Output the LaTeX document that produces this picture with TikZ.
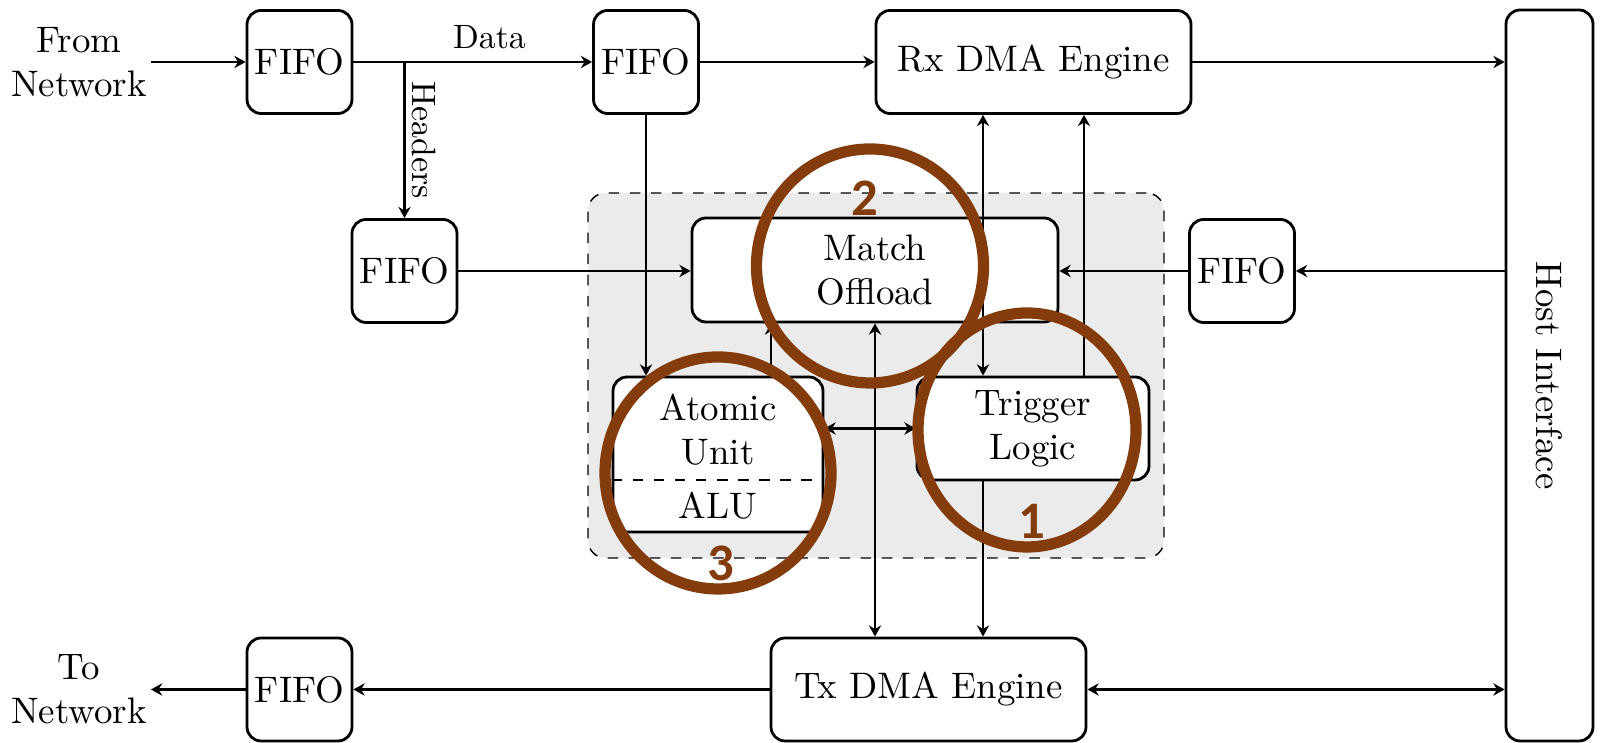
\documentclass[tikz,border=0pt]{standalone}
\usepackage{fontspec}
\newfontfamily\numfont{Carlito}
\usepackage{tikz}
\usetikzlibrary{arrows.meta}
\definecolor{markbrown}{RGB}{132,60,12}
\definecolor{areagray}{RGB}{235,235,235}

\begin{document}
\begin{tikzpicture}[>={Stealth[length=3.2pt,width=3.5pt]}, font=\fontsize{10.5}{12.6}\selectfont,
  block/.style = {draw, thick, rounded corners=4pt, fill=white, align=center, inner sep=0pt},
  fifo/.style = {block, minimum width=1.05cm, minimum height=1.03cm},
  engine/.style = {block, minimum width=3.15cm, minimum height=1.03cm},
  link/.style = {semithick},
  lbl/.style = {font=\fontsize{9.6}{11}\selectfont},
  ring/.style = {draw=markbrown, line width=3.2pt},
  ringnum/.style = {text=markbrown, font=\numfont\bfseries\fontsize{15}{15}\selectfont}]
  \useasboundingbox (0,0) rectangle (16.14,7.43);

  % grey area round the offload units
  \node[draw, dashed, thin, fill=areagray, rounded corners=5pt, minimum width=5.76cm, minimum height=3.65cm] (nic) at (8.76,3.675) {};

  \node[align=center, inner sep=1pt] (from) at (0.79,6.81) {From\\Network};
  \node[fifo] (fifoA) at (2.995,6.81) {FIFO};
  \node[fifo] (fifoB) at (6.46,6.81) {FIFO};
  \node[engine] (rx) at (10.335,6.81) {Rx DMA Engine};
  \node[block, minimum width=0.87cm, minimum height=7.31cm] (host) at (15.495,3.675) {};
  \node[rotate=-90] (hosttxt) at (host) {Host Interface};

  \node[fifo] (fifoH) at (4.045,4.72) {FIFO};
  \node[block, minimum width=3.66cm, minimum height=1.04cm] (match) at (8.75,4.73) {Match\\Offload};
  \node[fifo] (fifoR) at (12.42,4.72) {FIFO};

  \node[block, minimum width=2.1cm, minimum height=1.55cm] (atomic) at (7.18,2.885) {};
  \node[align=center] (atomtxt) at (7.18,3.13) {Atomic\\Unit};
  \node (alu) at (7.18,2.37) {ALU};
  \draw[dashed, thin] (atomic.west |- 0,2.63) -- (atomic.east |- 0,2.63);
  \node[block, minimum width=2.32cm, minimum height=1.03cm] (trig) at (10.33,3.145) {Trigger\\Logic};

  \node[engine] (tx) at (9.285,0.535) {Tx DMA Engine};
  \node[fifo] (fifoC) at (2.995,0.535) {FIFO};
  \node[align=center, inner sep=1pt] (to) at (0.79,0.535) {To\\Network};

  % receive side
  \draw[link,->] (from) -- (fifoA);
  \draw[link,->] (fifoA) -- node[lbl, pos=0.57, above] (datalbl) {Data} (fifoB);
  \draw[link,->] (fifoA.east -| fifoH.north) -- node[lbl, pos=0.5, rotate=-90, anchor=south, inner sep=2pt] (hdrlbl) {Headers} (fifoH.north);
  \draw[link,->] (fifoB) -- (rx);
  \draw[link,->] (rx) -- (rx.east -| host.west);
  \draw[link,->] (fifoB.south) -- (fifoB.south |- atomic.north);
  \draw[link,->] (fifoH.east) -- (fifoH.east -| match.west);
  \draw[link,->] (host.west |- fifoR.east) -- (fifoR.east);
  \draw[link,->] (fifoR.west) -- (fifoR.west -| match.east);

  % inside the grey area
  \draw[link,->] ([xshift=5.3mm]atomic.north) -- ([xshift=5.3mm]atomic.north |- match.south);
  \draw[link,<->] (match.south) -- (match.south |- tx.north);
  \draw[link,<->] (atomic.east |- trig.west) -- (trig.west);
  \draw[link,<->] ([xshift=-5mm]trig.north) -- ([xshift=-5mm]trig.north |- rx.south);
  \draw[link,->] ([xshift=5.1mm]trig.north) -- ([xshift=5.1mm]trig.north |- rx.south);
  \draw[link,->] ([xshift=-5mm]trig.south) -- ([xshift=-5mm]trig.south |- tx.north);

  % send side
  \draw[link,->] (tx) -- (fifoC);
  \draw[link,->] (fifoC) -- (to);
  \draw[link,<->] (tx.east) -- (tx.east -| host.west);

  % marks
  \draw[ring] (10.27,3.13) ellipse [x radius=1.09cm, y radius=1.17cm];
  \draw[ring] (8.70,4.77) ellipse [x radius=1.135cm, y radius=1.17cm];
  \draw[ring] (7.18,2.70) ellipse [x radius=1.13cm, y radius=1.16cm];
  \node[ringnum] (num1) at (10.32,2.22) {1};
  \node[ringnum] (num2) at (8.645,5.45) {2};
  \node[ringnum] (num3) at (7.21,1.80) {3};
\end{tikzpicture}
\end{document}
